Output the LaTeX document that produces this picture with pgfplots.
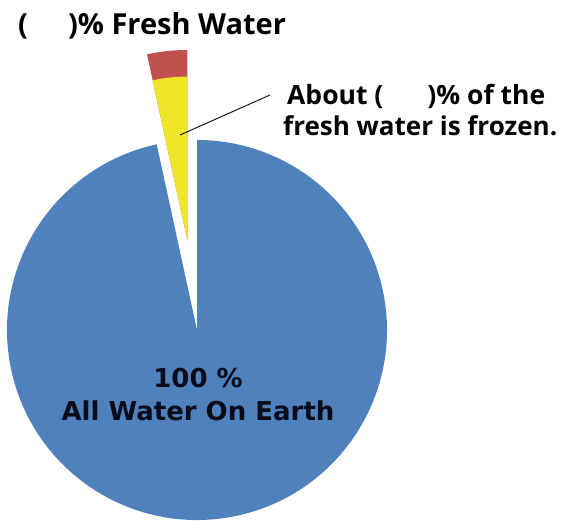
\documentclass[border=0pt]{standalone}
\usepackage{pgfplots}
\pgfplotsset{compat=1.18}
\usepackage{fontspec}
\setmainfont{Open Sans}
\newfontfamily\dejavu{DejaVu Sans}
\definecolor{pieblue}{RGB}{79,129,189}
\definecolor{piered}{RGB}{192,80,77}
\definecolor{pieyellow}{RGB}{240,230,40}
\definecolor{darktext}{RGB}{10,12,28}
\begin{document}
\begin{tikzpicture}
\begin{axis}[width=568pt,height=523pt,scale only axis,
  xmin=0,xmax=568,ymin=0,ymax=523,hide axis,clip=false]
% pie data (percent)
\pgfmathsetmacro{\saltpct}{96.6}
\pgfmathsetmacro{\freshpct}{100-\saltpct}
\pgfmathsetmacro{\frozenfrac}{0.86}% radial share of the frozen part
\pgfmathsetmacro{\a}{90+3.6*\freshpct}
\pgfmathsetmacro{\ry}{190*\frozenfrac}
% main slice
\fill[pieblue] (axis cs:197,193) -- ++(\a:190pt) arc[start angle=\a, end angle=450, radius=190pt] -- cycle;
% exploded slice
\fill[piered] (axis cs:187.3,283) -- ++(90:190pt) arc[start angle=90, end angle=\a, radius=190pt] -- cycle;
\fill[pieyellow] (axis cs:187.3,283) -- ++(90:\ry pt) arc[start angle=90, end angle=\a, radius=\ry pt] -- cycle;
\draw[black, line width=0.9pt] (axis cs:180,388) -- (axis cs:270,428);
\node[anchor=base west, inner sep=0pt, font=\bfseries\fontsize{29}{35}\selectfont] at (axis cs:18,488) {(\hspace{40pt})\% Fresh Water};
\node[anchor=base west, inner sep=0pt, font=\bfseries\fontsize{26.5}{32}\selectfont] at (axis cs:287,418) {About (\hspace{44pt})\% of the};
\node[anchor=base west, inner sep=0pt, font=\bfseries\fontsize{26}{32}\selectfont] at (axis cs:283,387) {fresh water is frozen.};
\node[anchor=base, inner sep=0pt, text=darktext, font=\dejavu\bfseries\fontsize{26}{30}\selectfont] at (axis cs:198,136) {100 \%};
\node[anchor=base, inner sep=0pt, text=darktext, font=\dejavu\bfseries\fontsize{26}{30}\selectfont] at (axis cs:198,103) {All Water On Earth};
\end{axis}
\pgfresetboundingbox
\useasboundingbox (current axis.south west) rectangle (current axis.north east);
\end{tikzpicture}
\end{document}
